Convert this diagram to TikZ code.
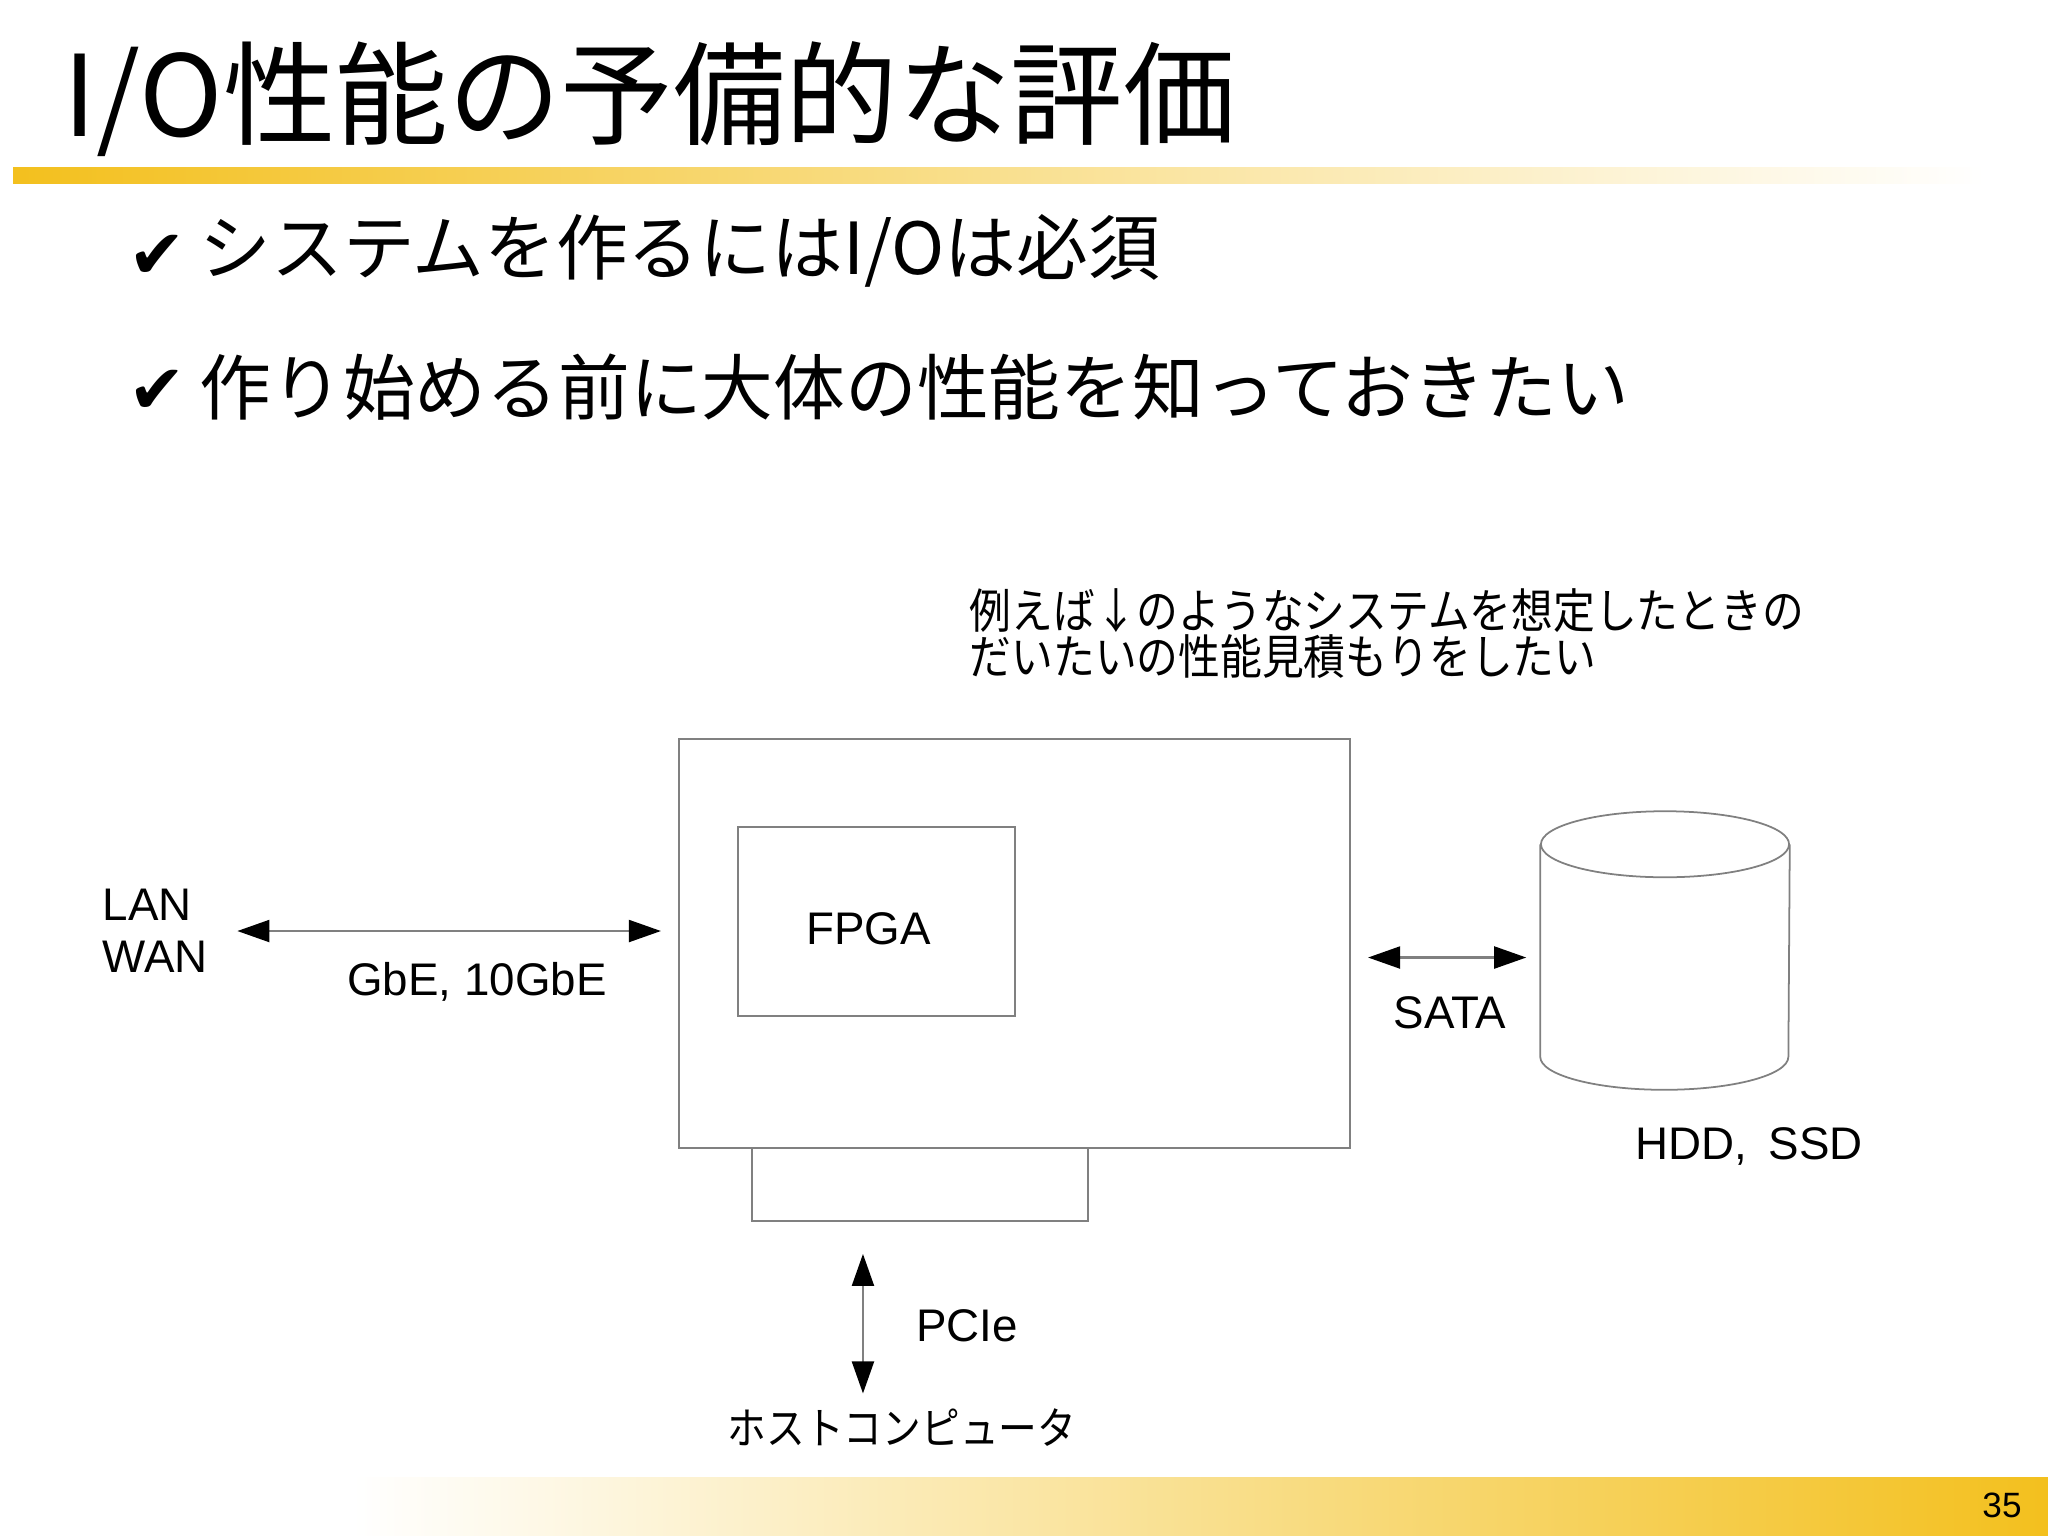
\documentclass[tikz,border=0pt]{standalone}
\usepackage{fontspec}
\setmainfont{Liberation Sans}
\newfontfamily\jpfont{Noto Sans CJK JP}
\newfontfamily\jpnarrow[FakeStretch=0.88]{Noto Sans CJK JP}
\newfontfamily\symfont{DejaVu Sans}
\usetikzlibrary{arrows.meta,positioning}
\definecolor{bargold}{RGB}{243,192,30}
\definecolor{linegray}{RGB}{128,128,128}

\begin{document}
\begin{tikzpicture}[
    x=0.01cm, y=-0.01cm,
    box/.style={rectangle, draw=linegray, line width=0.5pt, inner sep=0pt},
    lbl/.style={inner sep=0pt, font=\fontsize{13}{14.8}\selectfont},
    jplbl/.style={inner sep=0pt, font=\jpnarrow\fontsize{13.5}{13}\selectfont},
    bullet/.style={inner sep=0pt, anchor=west, font=\jpfont\fontsize{20.4}{24}\selectfont},
    tick/.style={inner sep=0pt, font=\symfont\fontsize{19.5}{22}\selectfont},
    biarrow/.style={draw=linegray, line width=0.6pt, {Triangle[length=0.32cm, width=0.22cm, color=black]}-{Triangle[length=0.32cm, width=0.22cm, color=black]}}
]
    % Page
    \useasboundingbox (0,0) rectangle (2048,1535);
    \fill[white] (0,0) rectangle (2048,1535);

    % Title
    \node[inner sep=0pt, anchor=west, font=\jpfont\fontsize{32}{38}\selectfont] (title) at (63,99) {I/O性能の予備的な評価};
    \shade[left color=bargold, right color=white] (13,167) rectangle (1985,183);

    % Bullets
    \node[tick] (tick1) at (157,257) {✔};
    \node[bullet] (item1) at (199,251) {システムを作るにはI/Oは必須};
    \node[tick] (tick2) at (157,392) {✔};
    \node[bullet] (item2) at (199,387) {作り始める前に大体の性能を知っておきたい};

    % Note
    \node[jplbl, anchor=north west, align=left] (note) at (969,588) {例えば↓のようなシステムを想定したときの\\だいたいの性能見積もりをしたい};

    % Board
    \node[box, minimum width=6.71cm, minimum height=4.09cm] (board) at (1014.5,943.5) {};
    \node[box, minimum width=2.77cm, minimum height=1.89cm,
          label={[lbl, xshift=-0.08cm, yshift=-0.07cm]center:FPGA}] (fpga) at (876.5,921.5) {};
    \node[box, minimum width=3.36cm, minimum height=0.73cm] (slot) at (920,1184.5) {};

    % Disk
    \node[minimum width=2.48cm, minimum height=2.77cm, inner sep=0pt] (disk) at (1665,950.5) {};
    \draw[linegray, line width=0.5pt] ([yshift=-0.33cm]disk.north) ellipse [x radius=1.24cm, y radius=0.33cm];
    \draw[linegray, line width=0.5pt] ([yshift=-0.33cm]disk.north west) -- ([yshift=0.33cm]disk.south west)
        arc[start angle=180, end angle=360, x radius=1.24cm, y radius=0.33cm] -- ([yshift=-0.33cm]disk.north east);

    % Labels
    \node[lbl, anchor=west, align=left] (lanwan) at (102,931) {LAN\\WAN};
    \node[lbl] (gbe) at (477,982) {GbE, 10GbE};
    \node[lbl] (sata) at (1450,1013) {SATA};
    \node[lbl] (hdd) at (1749,1146) {HDD,\kern0.09cm{} SSD};
    \node[lbl] (pcie) at (967,1326) {PCIe};
    \node[jplbl, font=\jpnarrow\fontsize{12.5}{13}\selectfont] (host) at (902,1428) {ホストコンピュータ};

    % Connections
    \draw[biarrow, shorten <=0.29cm, shorten >=0.17cm] (lanwan.east) -- (lanwan.east -| board.west);
    \draw[biarrow, shorten <=0.17cm, shorten >=0.14cm] ([yshift=-0.07cm]disk.west -| board.east) -- ([yshift=-0.07cm]disk.west);
    \draw[biarrow, shorten <=0.32cm, shorten >=0.15cm] ([xshift=-0.57cm]slot.south) -- ([xshift=-0.57cm]slot.south |- host.north);

    % Footer
    \shade[left color=white, right color=bargold] (353,1477) rectangle (2048,1535);
    \node[inner sep=0pt, font=\fontsize{10}{12}\selectfont] (page) at (2002,1505) {35};
\end{tikzpicture}
\end{document}
